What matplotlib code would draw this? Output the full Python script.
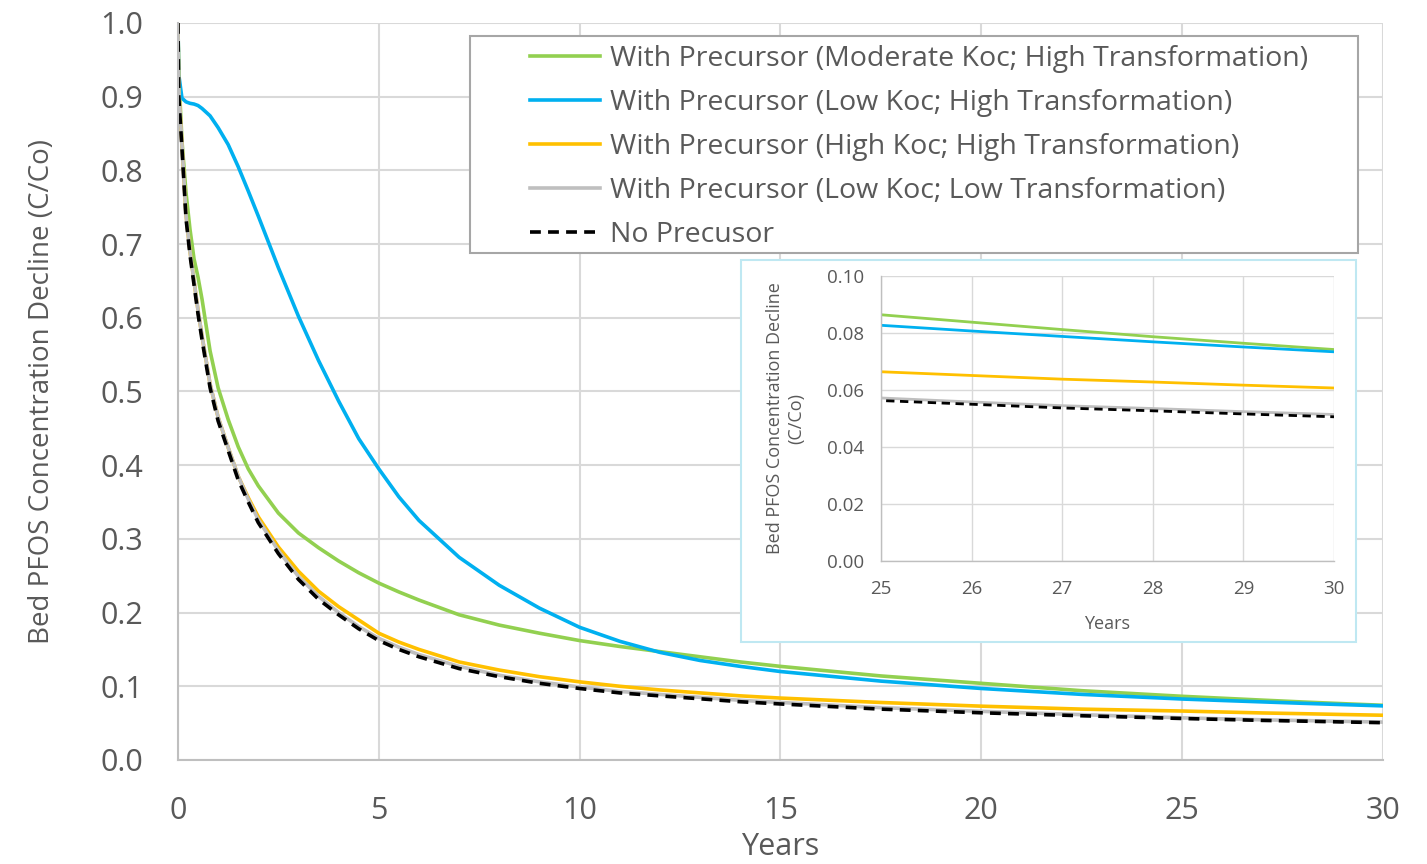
import matplotlib.pyplot as plt
from matplotlib.patches import Rectangle

plt.rcParams['font.family'] = ['Open Sans', 'DejaVu Sans']

years = [0, 0.02, 0.1, 0.2, 0.3, 0.4, 0.5, 0.6, 0.8, 1.0, 1.25, 1.5, 1.75, 2.0,
         2.5, 3.0, 3.5, 4.0, 4.5, 5, 5.5, 6, 7, 8, 9, 10, 11, 12, 13, 14, 15,
         17.5, 20, 22.5, 25, 26, 27, 28, 29, 30]

moderate_high = [1.0, 0.93, 0.84, 0.77, 0.72, 0.68, 0.655, 0.625, 0.555, 0.505, 0.462, 0.425, 0.395, 0.372,
                 0.335, 0.308, 0.288, 0.270, 0.254, 0.240, 0.228, 0.217, 0.197, 0.183, 0.172, 0.162, 0.154, 0.147, 0.140, 0.133, 0.127,
                 0.114, 0.104, 0.094, 0.0864, 0.0838, 0.0812, 0.0787, 0.0764, 0.0742]
low_high = [1.0, 0.93, 0.898, 0.893, 0.891, 0.890, 0.888, 0.884, 0.874, 0.858, 0.835, 0.805, 0.772, 0.738,
            0.668, 0.602, 0.542, 0.487, 0.436, 0.395, 0.357, 0.325, 0.275, 0.237, 0.206, 0.180, 0.161, 0.146, 0.135, 0.127, 0.120,
            0.107, 0.097, 0.089, 0.0827, 0.0807, 0.0788, 0.0769, 0.0751, 0.0734]
high_high = [1.0, 0.91, 0.835, 0.74, 0.69, 0.65, 0.61, 0.575, 0.51, 0.465, 0.424, 0.385, 0.356, 0.330,
             0.289, 0.256, 0.229, 0.208, 0.190, 0.172, 0.160, 0.150, 0.133, 0.122, 0.113, 0.106, 0.100, 0.095, 0.091, 0.087, 0.084,
             0.078, 0.073, 0.069, 0.0664, 0.0651, 0.0638, 0.0628, 0.0617, 0.0607]
low_low = [1.0, 0.91, 0.835, 0.74, 0.69, 0.65, 0.61, 0.575, 0.51, 0.465, 0.424, 0.385, 0.354, 0.326,
           0.284, 0.249, 0.222, 0.200, 0.181, 0.165, 0.153, 0.143, 0.127, 0.115, 0.106, 0.099, 0.093, 0.089, 0.085, 0.081, 0.078,
           0.071, 0.066, 0.0615, 0.0572, 0.0558, 0.0545, 0.0535, 0.0524, 0.0514]
no_precursor = [1.0, 0.90, 0.83, 0.735, 0.685, 0.645, 0.605, 0.57, 0.505, 0.46, 0.42, 0.38, 0.35, 0.322,
                0.280, 0.245, 0.218, 0.197, 0.178, 0.162, 0.150, 0.140, 0.124, 0.113, 0.104, 0.097, 0.091, 0.087, 0.083, 0.079, 0.076,
                0.069, 0.064, 0.060, 0.0563, 0.0550, 0.0537, 0.0527, 0.0516, 0.0506]

labels = ['With Precursor (Moderate Koc; High Transformation)',
          'With Precursor (Low Koc; High Transformation)',
          'With Precursor (High Koc; High Transformation)',
          'With Precursor (Low Koc; Low Transformation)',
          'No Precusor']
colors = ['#92D050', '#00B0F0', '#FFC000', '#BFBFBF', 'black']
series = [moderate_high, low_high, high_high, low_low, no_precursor]

text_col = '#595959'
grid_col = '#D9D9D9'
W, H = 1427, 864


def draw_lines(ax, lw):
    for vals, lab, col in zip(series, labels, colors):
        if col == 'black':
            ax.plot(years, vals, color=col, lw=lw, ls=(0, (3, 2)), label=lab)
        else:
            ax.plot(years, vals, color=col, lw=lw, label=lab)


def style_axes(ax, size, lw):
    ax.grid(True, color=grid_col, lw=lw)
    ax.set_axisbelow(True)
    for s in ['top', 'right']:
        ax.spines[s].set_visible(False)
    for s in ['left', 'bottom']:
        ax.spines[s].set_color('#BFBFBF')
        ax.spines[s].set_linewidth(lw)
    ax.tick_params(length=0, labelsize=size, colors=text_col)


fig = plt.figure(figsize=(W / 100, H / 100), dpi=100)
ax = fig.add_axes([0.1247, 0.1204, 0.8445, 0.853])
draw_lines(ax, 2.6)
ax.set_xlim(0, 30)
ax.set_ylim(0, 1.0)
ax.set_xticks(range(0, 31, 5))
ax.set_yticks([i / 10 for i in range(11)])
ax.yaxis.set_major_formatter(lambda v, p: f'{v:.1f}')
style_axes(ax, 22, 1.5)
ax.tick_params(axis='x', pad=26)
ax.tick_params(axis='y', pad=25)
ax.set_xlabel('Years', fontsize=22, color=text_col, labelpad=4)
ax.set_ylabel('Bed PFOS Concentration Decline (C/Co)', fontsize=20, color=text_col, labelpad=32)

# legend box drawn by hand, entries placed inside it
fig.add_artist(Rectangle((470 / W, 1 - 253 / H), 888 / W, 217 / H, transform=fig.transFigure,
                         facecolor='white', edgecolor='#A6A6A6', lw=1.5, zorder=1))
handles, names = ax.get_legend_handles_labels()
leg = fig.legend(handles, names, loc='upper left', bbox_to_anchor=(530 / W, 1 - 45 / H),
                 fontsize=20.5, frameon=False, handlelength=2.45, handletextpad=0.35,
                 labelspacing=0.56, borderpad=0, borderaxespad=0)
leg.set_zorder(3)
for t in leg.get_texts():
    t.set_color(text_col)

# inset frame and inset chart
fig.add_artist(Rectangle((741 / W, 1 - 642 / H), 615 / W, 382 / H, transform=fig.transFigure,
                         facecolor='white', edgecolor='#BFE8F2', lw=1.5, zorder=1))
ins = fig.add_axes([881 / W, 1 - 561 / H, 453 / W, 285 / H], zorder=2)
draw_lines(ins, 2.0)
ins.set_xlim(25, 30)
ins.set_ylim(0, 0.10)
ins.set_xticks(range(25, 31))
ins.set_yticks([0, 0.02, 0.04, 0.06, 0.08, 0.10])
ins.yaxis.set_major_formatter(lambda v, p: f'{v:.2f}')
style_axes(ins, 13.5, 1.0)
ins.tick_params(axis='x', pad=14)
ins.tick_params(axis='y', pad=12)
ins.set_xlabel('Years', fontsize=13, color=text_col, labelpad=12)
ins.set_ylabel('Bed PFOS Concentration Decline\n(C/Co)', fontsize=13, color=text_col, labelpad=16)

fig.savefig('out.png', dpi=100)
